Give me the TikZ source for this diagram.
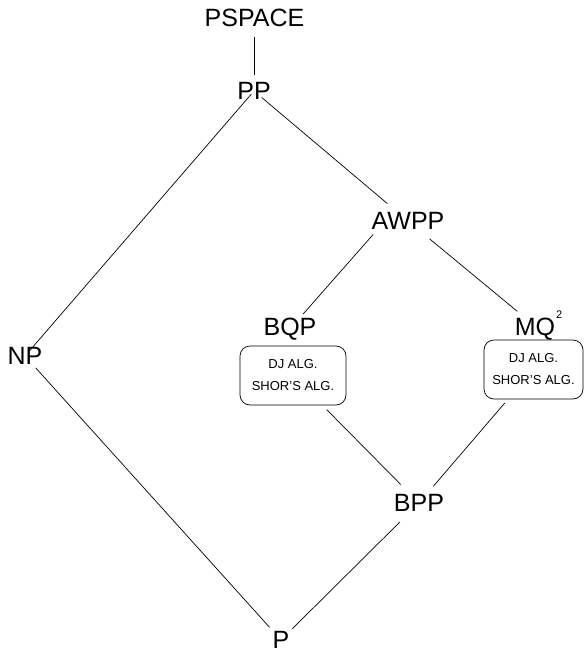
\documentclass[tikz,border=0pt]{standalone}
\usepackage{fontspec}
\setmainfont{Liberation Sans}

\begin{document}
\begin{tikzpicture}[x=1pt, y=-1pt,
	cls/.style={inner sep=0pt, font=\fontsize{25}{25}\selectfont},
	alg/.style={draw, rounded corners=10pt, align=center, minimum height=59pt,
		inner sep=0pt, font=\fontsize{13}{22}\selectfont},
	line width=0.7pt]
		%%%%% START %%%%%
		\useasboundingbox (0, 0) rectangle (584, 656);
		
		% classes
		\node[cls] (pspace) at (254.5, 18) {PSPACE};
		\node[cls] (pp) at (254, 91) {PP};
		\node[cls] (awpp) at (408, 221) {AWPP};
		\node[cls] (np) at (25, 356) {NP};
		\node[cls] (bqp) at (290, 329) {BQP};
		\node[cls] (mq) at (535, 326) {MQ\rlap{\kern1pt\raisebox{17pt}{\fontsize{11}{11}\selectfont 2}}};
		\node[cls] (bpp) at (419, 503) {BPP};
		\node[cls] (p) at (281, 640) {P};
		
		% algorithms
		\node[alg, minimum width=106pt] (bqpalg) at (293, 375.5) {DJ ALG.\\SHOR'S ALG.};
		\node[alg, minimum width=99pt] (mqalg) at (533.5, 369.5) {DJ ALG.\\SHOR'S ALG.};
		
		\draw[shorten <=19pt, shorten >=16pt] (pspace.center) -- (pspace.center |- pp.center);
		\draw[shorten <=4pt, shorten >=5pt] (pp.center) -- (np.center);
		\draw[shorten <=10pt, shorten >=27pt] (pp.center) -- (awpp.center);
		\draw[shorten <=18pt, shorten >=20pt] ([xshift=-23pt]awpp.center) -- (bqp.center);
		\draw[shorten <=28pt, shorten >=23pt] (awpp.center) -- (mq.center);
		\draw[shorten <=48pt, shorten >=26pt] (bqpalg.center) -- (bpp.center);
		\draw[shorten <=44pt, shorten >=22pt] (mqalg.center) -- (bpp.center);
		\draw[shorten <=16pt, shorten >=17pt] (np.center) -- (p.center);
		\draw[shorten <=27pt, shorten >=16pt] (bpp.center) -- (p.center);
		
		%%%%% END %%%%%
\end{tikzpicture}
\end{document}
